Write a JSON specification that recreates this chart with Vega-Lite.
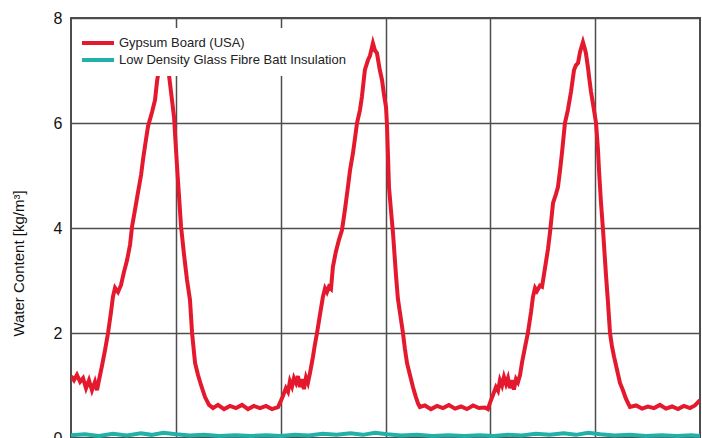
{
  "$schema": "https://vega.github.io/schema/vega-lite/v6.json",
  "width": 629,
  "height": 420,
  "autosize": {"type": "none"},
  "padding": {"left": 71, "top": 18, "right": 2, "bottom": 0},
  "background": "white",
  "config": {
    "view": {"stroke": "#4d4d4d", "strokeWidth": 2},
    "axis": {"gridColor": "#4d4d4d", "gridOpacity": 1, "gridWidth": 1.5},
    "font": "Liberation Sans"
  },
  "data": {
    "values": [
      {"m": 0.00, "v": 1.18, "s": "Gypsum Board (USA)"},
      {"m": 0.17, "v": 1.10, "s": "Gypsum Board (USA)"},
      {"m": 0.34, "v": 1.20, "s": "Gypsum Board (USA)"},
      {"m": 0.52, "v": 1.07, "s": "Gypsum Board (USA)"},
      {"m": 0.69, "v": 1.14, "s": "Gypsum Board (USA)"},
      {"m": 0.86, "v": 0.95, "s": "Gypsum Board (USA)"},
      {"m": 1.03, "v": 1.10, "s": "Gypsum Board (USA)"},
      {"m": 1.20, "v": 0.91, "s": "Gypsum Board (USA)"},
      {"m": 1.37, "v": 1.07, "s": "Gypsum Board (USA)"},
      {"m": 1.49, "v": 0.91, "s": "Gypsum Board (USA)"},
      {"m": 1.60, "v": 1.10, "s": "Gypsum Board (USA)"},
      {"m": 1.77, "v": 1.37, "s": "Gypsum Board (USA)"},
      {"m": 1.95, "v": 1.68, "s": "Gypsum Board (USA)"},
      {"m": 2.12, "v": 2.00, "s": "Gypsum Board (USA)"},
      {"m": 2.29, "v": 2.40, "s": "Gypsum Board (USA)"},
      {"m": 2.40, "v": 2.69, "s": "Gypsum Board (USA)"},
      {"m": 2.52, "v": 2.86, "s": "Gypsum Board (USA)"},
      {"m": 2.69, "v": 2.78, "s": "Gypsum Board (USA)"},
      {"m": 2.86, "v": 2.91, "s": "Gypsum Board (USA)"},
      {"m": 3.03, "v": 3.16, "s": "Gypsum Board (USA)"},
      {"m": 3.21, "v": 3.39, "s": "Gypsum Board (USA)"},
      {"m": 3.38, "v": 3.68, "s": "Gypsum Board (USA)"},
      {"m": 3.49, "v": 4.02, "s": "Gypsum Board (USA)"},
      {"m": 3.66, "v": 4.34, "s": "Gypsum Board (USA)"},
      {"m": 3.83, "v": 4.67, "s": "Gypsum Board (USA)"},
      {"m": 4.01, "v": 5.01, "s": "Gypsum Board (USA)"},
      {"m": 4.12, "v": 5.30, "s": "Gypsum Board (USA)"},
      {"m": 4.29, "v": 5.68, "s": "Gypsum Board (USA)"},
      {"m": 4.41, "v": 5.94, "s": "Gypsum Board (USA)"},
      {"m": 4.64, "v": 6.21, "s": "Gypsum Board (USA)"},
      {"m": 4.81, "v": 6.44, "s": "Gypsum Board (USA)"},
      {"m": 4.92, "v": 6.78, "s": "Gypsum Board (USA)"},
      {"m": 5.09, "v": 7.16, "s": "Gypsum Board (USA)"},
      {"m": 5.27, "v": 7.43, "s": "Gypsum Board (USA)"},
      {"m": 5.38, "v": 7.54, "s": "Gypsum Board (USA)"},
      {"m": 5.49, "v": 7.30, "s": "Gypsum Board (USA)"},
      {"m": 5.61, "v": 6.91, "s": "Gypsum Board (USA)"},
      {"m": 5.78, "v": 6.44, "s": "Gypsum Board (USA)"},
      {"m": 5.90, "v": 6.10, "s": "Gypsum Board (USA)"},
      {"m": 6.01, "v": 5.49, "s": "Gypsum Board (USA)"},
      {"m": 6.12, "v": 4.91, "s": "Gypsum Board (USA)"},
      {"m": 6.30, "v": 4.02, "s": "Gypsum Board (USA)"},
      {"m": 6.47, "v": 3.49, "s": "Gypsum Board (USA)"},
      {"m": 6.64, "v": 3.01, "s": "Gypsum Board (USA)"},
      {"m": 6.81, "v": 2.63, "s": "Gypsum Board (USA)"},
      {"m": 6.93, "v": 2.00, "s": "Gypsum Board (USA)"},
      {"m": 7.10, "v": 1.43, "s": "Gypsum Board (USA)"},
      {"m": 7.27, "v": 1.20, "s": "Gypsum Board (USA)"},
      {"m": 7.44, "v": 1.01, "s": "Gypsum Board (USA)"},
      {"m": 7.67, "v": 0.78, "s": "Gypsum Board (USA)"},
      {"m": 7.90, "v": 0.63, "s": "Gypsum Board (USA)"},
      {"m": 8.13, "v": 0.57, "s": "Gypsum Board (USA)"},
      {"m": 8.41, "v": 0.63, "s": "Gypsum Board (USA)"},
      {"m": 8.76, "v": 0.55, "s": "Gypsum Board (USA)"},
      {"m": 9.10, "v": 0.61, "s": "Gypsum Board (USA)"},
      {"m": 9.44, "v": 0.57, "s": "Gypsum Board (USA)"},
      {"m": 9.79, "v": 0.63, "s": "Gypsum Board (USA)"},
      {"m": 10.13, "v": 0.55, "s": "Gypsum Board (USA)"},
      {"m": 10.47, "v": 0.61, "s": "Gypsum Board (USA)"},
      {"m": 10.82, "v": 0.57, "s": "Gypsum Board (USA)"},
      {"m": 11.16, "v": 0.61, "s": "Gypsum Board (USA)"},
      {"m": 11.50, "v": 0.55, "s": "Gypsum Board (USA)"},
      {"m": 11.85, "v": 0.59, "s": "Gypsum Board (USA)"},
      {"m": 11.96, "v": 0.67, "s": "Gypsum Board (USA)"},
      {"m": 12.13, "v": 0.80, "s": "Gypsum Board (USA)"},
      {"m": 12.30, "v": 0.95, "s": "Gypsum Board (USA)"},
      {"m": 12.42, "v": 0.88, "s": "Gypsum Board (USA)"},
      {"m": 12.53, "v": 1.08, "s": "Gypsum Board (USA)"},
      {"m": 12.65, "v": 0.98, "s": "Gypsum Board (USA)"},
      {"m": 12.76, "v": 1.14, "s": "Gypsum Board (USA)"},
      {"m": 12.88, "v": 1.05, "s": "Gypsum Board (USA)"},
      {"m": 12.99, "v": 1.18, "s": "Gypsum Board (USA)"},
      {"m": 13.10, "v": 0.97, "s": "Gypsum Board (USA)"},
      {"m": 13.22, "v": 1.12, "s": "Gypsum Board (USA)"},
      {"m": 13.33, "v": 0.93, "s": "Gypsum Board (USA)"},
      {"m": 13.45, "v": 1.15, "s": "Gypsum Board (USA)"},
      {"m": 13.56, "v": 1.05, "s": "Gypsum Board (USA)"},
      {"m": 13.68, "v": 1.24, "s": "Gypsum Board (USA)"},
      {"m": 13.85, "v": 1.55, "s": "Gypsum Board (USA)"},
      {"m": 13.96, "v": 1.78, "s": "Gypsum Board (USA)"},
      {"m": 14.08, "v": 2.00, "s": "Gypsum Board (USA)"},
      {"m": 14.25, "v": 2.35, "s": "Gypsum Board (USA)"},
      {"m": 14.42, "v": 2.69, "s": "Gypsum Board (USA)"},
      {"m": 14.54, "v": 2.85, "s": "Gypsum Board (USA)"},
      {"m": 14.65, "v": 2.78, "s": "Gypsum Board (USA)"},
      {"m": 14.76, "v": 2.88, "s": "Gypsum Board (USA)"},
      {"m": 14.88, "v": 2.84, "s": "Gypsum Board (USA)"},
      {"m": 14.99, "v": 3.26, "s": "Gypsum Board (USA)"},
      {"m": 15.16, "v": 3.55, "s": "Gypsum Board (USA)"},
      {"m": 15.34, "v": 3.78, "s": "Gypsum Board (USA)"},
      {"m": 15.51, "v": 3.96, "s": "Gypsum Board (USA)"},
      {"m": 15.68, "v": 4.35, "s": "Gypsum Board (USA)"},
      {"m": 15.85, "v": 4.78, "s": "Gypsum Board (USA)"},
      {"m": 15.97, "v": 5.10, "s": "Gypsum Board (USA)"},
      {"m": 16.14, "v": 5.43, "s": "Gypsum Board (USA)"},
      {"m": 16.25, "v": 5.70, "s": "Gypsum Board (USA)"},
      {"m": 16.37, "v": 6.00, "s": "Gypsum Board (USA)"},
      {"m": 16.54, "v": 6.25, "s": "Gypsum Board (USA)"},
      {"m": 16.65, "v": 6.50, "s": "Gypsum Board (USA)"},
      {"m": 16.82, "v": 7.01, "s": "Gypsum Board (USA)"},
      {"m": 17.00, "v": 7.20, "s": "Gypsum Board (USA)"},
      {"m": 17.11, "v": 7.28, "s": "Gypsum Board (USA)"},
      {"m": 17.23, "v": 7.45, "s": "Gypsum Board (USA)"},
      {"m": 17.28, "v": 7.52, "s": "Gypsum Board (USA)"},
      {"m": 17.40, "v": 7.38, "s": "Gypsum Board (USA)"},
      {"m": 17.51, "v": 7.33, "s": "Gypsum Board (USA)"},
      {"m": 17.68, "v": 7.00, "s": "Gypsum Board (USA)"},
      {"m": 17.80, "v": 6.82, "s": "Gypsum Board (USA)"},
      {"m": 17.91, "v": 6.55, "s": "Gypsum Board (USA)"},
      {"m": 18.03, "v": 6.30, "s": "Gypsum Board (USA)"},
      {"m": 18.08, "v": 6.00, "s": "Gypsum Board (USA)"},
      {"m": 18.14, "v": 5.40, "s": "Gypsum Board (USA)"},
      {"m": 18.20, "v": 4.78, "s": "Gypsum Board (USA)"},
      {"m": 18.31, "v": 4.35, "s": "Gypsum Board (USA)"},
      {"m": 18.43, "v": 3.90, "s": "Gypsum Board (USA)"},
      {"m": 18.60, "v": 3.10, "s": "Gypsum Board (USA)"},
      {"m": 18.71, "v": 2.65, "s": "Gypsum Board (USA)"},
      {"m": 18.83, "v": 2.38, "s": "Gypsum Board (USA)"},
      {"m": 19.00, "v": 2.00, "s": "Gypsum Board (USA)"},
      {"m": 19.11, "v": 1.70, "s": "Gypsum Board (USA)"},
      {"m": 19.23, "v": 1.43, "s": "Gypsum Board (USA)"},
      {"m": 19.40, "v": 1.20, "s": "Gypsum Board (USA)"},
      {"m": 19.57, "v": 0.97, "s": "Gypsum Board (USA)"},
      {"m": 19.74, "v": 0.78, "s": "Gypsum Board (USA)"},
      {"m": 19.86, "v": 0.66, "s": "Gypsum Board (USA)"},
      {"m": 19.97, "v": 0.59, "s": "Gypsum Board (USA)"},
      {"m": 20.26, "v": 0.62, "s": "Gypsum Board (USA)"},
      {"m": 20.60, "v": 0.55, "s": "Gypsum Board (USA)"},
      {"m": 20.95, "v": 0.61, "s": "Gypsum Board (USA)"},
      {"m": 21.29, "v": 0.57, "s": "Gypsum Board (USA)"},
      {"m": 21.63, "v": 0.63, "s": "Gypsum Board (USA)"},
      {"m": 21.98, "v": 0.56, "s": "Gypsum Board (USA)"},
      {"m": 22.32, "v": 0.60, "s": "Gypsum Board (USA)"},
      {"m": 22.66, "v": 0.55, "s": "Gypsum Board (USA)"},
      {"m": 23.01, "v": 0.62, "s": "Gypsum Board (USA)"},
      {"m": 23.35, "v": 0.57, "s": "Gypsum Board (USA)"},
      {"m": 23.69, "v": 0.58, "s": "Gypsum Board (USA)"},
      {"m": 23.86, "v": 0.55, "s": "Gypsum Board (USA)"},
      {"m": 23.98, "v": 0.67, "s": "Gypsum Board (USA)"},
      {"m": 24.15, "v": 0.82, "s": "Gypsum Board (USA)"},
      {"m": 24.32, "v": 0.97, "s": "Gypsum Board (USA)"},
      {"m": 24.44, "v": 0.90, "s": "Gypsum Board (USA)"},
      {"m": 24.55, "v": 1.10, "s": "Gypsum Board (USA)"},
      {"m": 24.67, "v": 1.00, "s": "Gypsum Board (USA)"},
      {"m": 24.78, "v": 1.16, "s": "Gypsum Board (USA)"},
      {"m": 24.90, "v": 1.03, "s": "Gypsum Board (USA)"},
      {"m": 25.01, "v": 1.14, "s": "Gypsum Board (USA)"},
      {"m": 25.12, "v": 0.95, "s": "Gypsum Board (USA)"},
      {"m": 25.24, "v": 1.10, "s": "Gypsum Board (USA)"},
      {"m": 25.35, "v": 0.92, "s": "Gypsum Board (USA)"},
      {"m": 25.47, "v": 1.12, "s": "Gypsum Board (USA)"},
      {"m": 25.58, "v": 1.06, "s": "Gypsum Board (USA)"},
      {"m": 25.70, "v": 1.20, "s": "Gypsum Board (USA)"},
      {"m": 25.81, "v": 1.43, "s": "Gypsum Board (USA)"},
      {"m": 25.98, "v": 1.72, "s": "Gypsum Board (USA)"},
      {"m": 26.15, "v": 2.00, "s": "Gypsum Board (USA)"},
      {"m": 26.33, "v": 2.40, "s": "Gypsum Board (USA)"},
      {"m": 26.44, "v": 2.69, "s": "Gypsum Board (USA)"},
      {"m": 26.56, "v": 2.86, "s": "Gypsum Board (USA)"},
      {"m": 26.67, "v": 2.80, "s": "Gypsum Board (USA)"},
      {"m": 26.84, "v": 2.90, "s": "Gypsum Board (USA)"},
      {"m": 26.96, "v": 2.88, "s": "Gypsum Board (USA)"},
      {"m": 27.13, "v": 3.24, "s": "Gypsum Board (USA)"},
      {"m": 27.30, "v": 3.60, "s": "Gypsum Board (USA)"},
      {"m": 27.41, "v": 3.90, "s": "Gypsum Board (USA)"},
      {"m": 27.59, "v": 4.48, "s": "Gypsum Board (USA)"},
      {"m": 27.76, "v": 4.65, "s": "Gypsum Board (USA)"},
      {"m": 27.87, "v": 4.78, "s": "Gypsum Board (USA)"},
      {"m": 27.99, "v": 5.10, "s": "Gypsum Board (USA)"},
      {"m": 28.10, "v": 5.43, "s": "Gypsum Board (USA)"},
      {"m": 28.27, "v": 6.00, "s": "Gypsum Board (USA)"},
      {"m": 28.44, "v": 6.25, "s": "Gypsum Board (USA)"},
      {"m": 28.62, "v": 6.60, "s": "Gypsum Board (USA)"},
      {"m": 28.79, "v": 7.01, "s": "Gypsum Board (USA)"},
      {"m": 28.90, "v": 7.10, "s": "Gypsum Board (USA)"},
      {"m": 29.02, "v": 7.14, "s": "Gypsum Board (USA)"},
      {"m": 29.13, "v": 7.35, "s": "Gypsum Board (USA)"},
      {"m": 29.30, "v": 7.54, "s": "Gypsum Board (USA)"},
      {"m": 29.42, "v": 7.40, "s": "Gypsum Board (USA)"},
      {"m": 29.47, "v": 7.33, "s": "Gypsum Board (USA)"},
      {"m": 29.59, "v": 7.05, "s": "Gypsum Board (USA)"},
      {"m": 29.65, "v": 6.88, "s": "Gypsum Board (USA)"},
      {"m": 29.76, "v": 6.60, "s": "Gypsum Board (USA)"},
      {"m": 29.87, "v": 6.38, "s": "Gypsum Board (USA)"},
      {"m": 30.05, "v": 6.00, "s": "Gypsum Board (USA)"},
      {"m": 30.16, "v": 5.50, "s": "Gypsum Board (USA)"},
      {"m": 30.22, "v": 5.10, "s": "Gypsum Board (USA)"},
      {"m": 30.33, "v": 4.50, "s": "Gypsum Board (USA)"},
      {"m": 30.45, "v": 3.96, "s": "Gypsum Board (USA)"},
      {"m": 30.62, "v": 3.10, "s": "Gypsum Board (USA)"},
      {"m": 30.73, "v": 2.60, "s": "Gypsum Board (USA)"},
      {"m": 30.85, "v": 2.00, "s": "Gypsum Board (USA)"},
      {"m": 30.96, "v": 1.75, "s": "Gypsum Board (USA)"},
      {"m": 31.08, "v": 1.55, "s": "Gypsum Board (USA)"},
      {"m": 31.25, "v": 1.30, "s": "Gypsum Board (USA)"},
      {"m": 31.42, "v": 1.05, "s": "Gypsum Board (USA)"},
      {"m": 31.59, "v": 0.91, "s": "Gypsum Board (USA)"},
      {"m": 31.76, "v": 0.75, "s": "Gypsum Board (USA)"},
      {"m": 31.99, "v": 0.59, "s": "Gypsum Board (USA)"},
      {"m": 32.34, "v": 0.62, "s": "Gypsum Board (USA)"},
      {"m": 32.68, "v": 0.56, "s": "Gypsum Board (USA)"},
      {"m": 33.02, "v": 0.60, "s": "Gypsum Board (USA)"},
      {"m": 33.37, "v": 0.57, "s": "Gypsum Board (USA)"},
      {"m": 33.71, "v": 0.63, "s": "Gypsum Board (USA)"},
      {"m": 34.05, "v": 0.56, "s": "Gypsum Board (USA)"},
      {"m": 34.40, "v": 0.60, "s": "Gypsum Board (USA)"},
      {"m": 34.74, "v": 0.55, "s": "Gypsum Board (USA)"},
      {"m": 35.08, "v": 0.61, "s": "Gypsum Board (USA)"},
      {"m": 35.43, "v": 0.57, "s": "Gypsum Board (USA)"},
      {"m": 35.71, "v": 0.62, "s": "Gypsum Board (USA)"},
      {"m": 36.00, "v": 0.72, "s": "Gypsum Board (USA)"},
      {"m": 0.0, "v": 0.05, "s": "Low Density Glass Fibre Batt Insulation"},
      {"m": 0.8, "v": 0.07, "s": "Low Density Glass Fibre Batt Insulation"},
      {"m": 1.6, "v": 0.04, "s": "Low Density Glass Fibre Batt Insulation"},
      {"m": 2.4, "v": 0.08, "s": "Low Density Glass Fibre Batt Insulation"},
      {"m": 3.2, "v": 0.05, "s": "Low Density Glass Fibre Batt Insulation"},
      {"m": 4.0, "v": 0.09, "s": "Low Density Glass Fibre Batt Insulation"},
      {"m": 4.6, "v": 0.06, "s": "Low Density Glass Fibre Batt Insulation"},
      {"m": 5.3, "v": 0.10, "s": "Low Density Glass Fibre Batt Insulation"},
      {"m": 6.0, "v": 0.07, "s": "Low Density Glass Fibre Batt Insulation"},
      {"m": 6.8, "v": 0.05, "s": "Low Density Glass Fibre Batt Insulation"},
      {"m": 7.6, "v": 0.06, "s": "Low Density Glass Fibre Batt Insulation"},
      {"m": 8.5, "v": 0.04, "s": "Low Density Glass Fibre Batt Insulation"},
      {"m": 9.4, "v": 0.05, "s": "Low Density Glass Fibre Batt Insulation"},
      {"m": 10.3, "v": 0.04, "s": "Low Density Glass Fibre Batt Insulation"},
      {"m": 11.2, "v": 0.05, "s": "Low Density Glass Fibre Batt Insulation"},
      {"m": 12.0, "v": 0.04, "s": "Low Density Glass Fibre Batt Insulation"},
      {"m": 12.8, "v": 0.06, "s": "Low Density Glass Fibre Batt Insulation"},
      {"m": 13.6, "v": 0.05, "s": "Low Density Glass Fibre Batt Insulation"},
      {"m": 14.4, "v": 0.08, "s": "Low Density Glass Fibre Batt Insulation"},
      {"m": 15.2, "v": 0.06, "s": "Low Density Glass Fibre Batt Insulation"},
      {"m": 16.0, "v": 0.09, "s": "Low Density Glass Fibre Batt Insulation"},
      {"m": 16.7, "v": 0.06, "s": "Low Density Glass Fibre Batt Insulation"},
      {"m": 17.4, "v": 0.10, "s": "Low Density Glass Fibre Batt Insulation"},
      {"m": 18.1, "v": 0.07, "s": "Low Density Glass Fibre Batt Insulation"},
      {"m": 18.9, "v": 0.05, "s": "Low Density Glass Fibre Batt Insulation"},
      {"m": 19.8, "v": 0.06, "s": "Low Density Glass Fibre Batt Insulation"},
      {"m": 20.7, "v": 0.04, "s": "Low Density Glass Fibre Batt Insulation"},
      {"m": 21.6, "v": 0.05, "s": "Low Density Glass Fibre Batt Insulation"},
      {"m": 22.5, "v": 0.04, "s": "Low Density Glass Fibre Batt Insulation"},
      {"m": 23.4, "v": 0.05, "s": "Low Density Glass Fibre Batt Insulation"},
      {"m": 24.2, "v": 0.04, "s": "Low Density Glass Fibre Batt Insulation"},
      {"m": 25.0, "v": 0.06, "s": "Low Density Glass Fibre Batt Insulation"},
      {"m": 25.8, "v": 0.05, "s": "Low Density Glass Fibre Batt Insulation"},
      {"m": 26.6, "v": 0.08, "s": "Low Density Glass Fibre Batt Insulation"},
      {"m": 27.4, "v": 0.06, "s": "Low Density Glass Fibre Batt Insulation"},
      {"m": 28.2, "v": 0.09, "s": "Low Density Glass Fibre Batt Insulation"},
      {"m": 28.9, "v": 0.06, "s": "Low Density Glass Fibre Batt Insulation"},
      {"m": 29.6, "v": 0.10, "s": "Low Density Glass Fibre Batt Insulation"},
      {"m": 30.3, "v": 0.07, "s": "Low Density Glass Fibre Batt Insulation"},
      {"m": 31.1, "v": 0.05, "s": "Low Density Glass Fibre Batt Insulation"},
      {"m": 32.0, "v": 0.06, "s": "Low Density Glass Fibre Batt Insulation"},
      {"m": 32.9, "v": 0.04, "s": "Low Density Glass Fibre Batt Insulation"},
      {"m": 33.8, "v": 0.05, "s": "Low Density Glass Fibre Batt Insulation"},
      {"m": 34.7, "v": 0.04, "s": "Low Density Glass Fibre Batt Insulation"},
      {"m": 35.5, "v": 0.05, "s": "Low Density Glass Fibre Batt Insulation"},
      {"m": 36.0, "v": 0.04, "s": "Low Density Glass Fibre Batt Insulation"}
    ]
  },
  "mark": {"type": "line", "strokeWidth": 4, "clip": true},
  "encoding": {
    "x": {
      "field": "m",
      "type": "quantitative",
      "scale": {"domain": [0, 36], "nice": false, "zero": false},
      "axis": {"grid": true, "values": [6, 12, 18, 24, 30], "labels": false, "ticks": false, "domain": false, "title": null}
    },
    "y": {
      "field": "v",
      "type": "quantitative",
      "scale": {"domain": [0, 8], "nice": false},
      "axis": {
        "values": [0, 2, 4, 6, 8],
        "grid": true,
        "ticks": false,
        "domain": false,
        "labelFontSize": 16,
        "labelColor": "#111111",
        "labelPadding": 9,
        "title": "Water Content [kg/m³]",
        "titleFontSize": 15,
        "titleFontWeight": "normal",
        "titleColor": "#111111",
        "titleAngle": -90,
        "titleX": -53,
        "titleY": 245,
        "titleAlign": "center",
        "titleBaseline": "middle"
      }
    },
    "color": {
      "field": "s",
      "type": "nominal",
      "scale": {
        "domain": ["Gypsum Board (USA)", "Low Density Glass Fibre Batt Insulation"],
        "range": ["#e5192d", "#22b1a9"]
      },
      "legend": {
        "orient": "none",
        "legendX": 12,
        "legendY": 10,
        "title": null,
        "fillColor": "white",
        "padding": 8,
        "symbolType": "M-3.2,0H3.2",
        "symbolSize": 100,
        "symbolStrokeWidth": 4,
        "labelFontSize": 13,
        "labelColor": "#222222",
        "labelOffset": 14,
        "labelLimit": 0,
        "rowPadding": 1
      }
    }
  }
}
